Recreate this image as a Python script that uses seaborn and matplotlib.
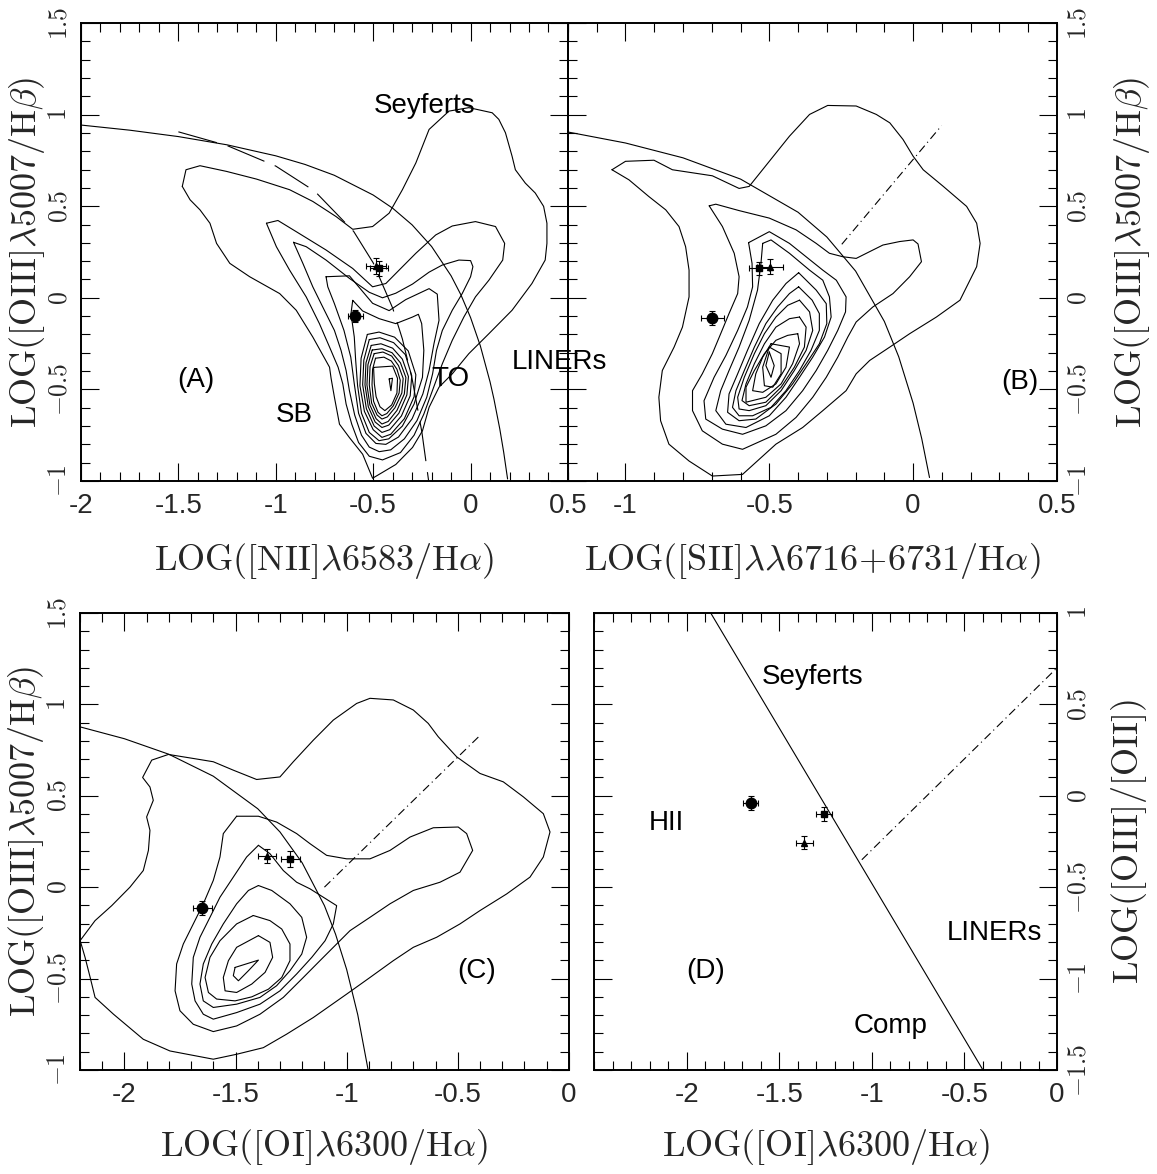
import matplotlib

matplotlib.use("Agg")
import matplotlib.pyplot as plt
import numpy as np
import seaborn as sns
from matplotlib.ticker import FixedLocator, MultipleLocator

sns.set_theme(style="ticks")
plt.rcParams["font.family"] = ["Liberation Sans", "DejaVu Sans"]
plt.rcParams["mathtext.fontset"] = "cm"

# ---------------------------------------------------------------- panel A
a_contours = [
    [(-1.480, 0.608), (-1.461, 0.699), (-1.389, 0.721), (-1.253, 0.690), (-1.099, 0.648),
     (-0.929, 0.590), (-0.810, 0.526), (-0.690, 0.443), (-0.605, 0.374), (-0.503, 0.389),
     (-0.418, 0.462), (-0.350, 0.590), (-0.281, 0.736), (-0.213, 0.919), (-0.111, 1.019),
     (-0.009, 1.038), (0.111, 1.010), (0.145, 0.974), (0.179, 0.901), (0.213, 0.773),
     (0.230, 0.699), (0.281, 0.626), (0.332, 0.572), (0.375, 0.499), (0.392, 0.407),
     (0.392, 0.297), (0.383, 0.206), (0.315, 0.078), (0.213, -0.068), (0.094, -0.196),
     (-0.009, -0.305), (-0.094, -0.415), (-0.162, -0.488), (-0.213, -0.598), (-0.247, -0.726),
     (-0.298, -0.817), (-0.384, -0.910), (-0.503, -0.985), (-0.554, -0.854), (-0.622, -0.763),
     (-0.673, -0.690), (-0.699, -0.543), (-0.716, -0.440), (-0.724, -0.379), (-0.810, -0.214),
     (-0.895, -0.068), (-0.980, 0.023), (-1.134, 0.115), (-1.236, 0.188), (-1.304, 0.297),
     (-1.338, 0.407), (-1.389, 0.480), (-1.440, 0.535)],
    [(-1.048, 0.407), (-0.989, 0.422), (-0.895, 0.361), (-0.742, 0.261), (-0.605, 0.160),
     (-0.503, 0.060), (-0.435, 0.078), (-0.367, 0.151), (-0.281, 0.243), (-0.179, 0.343),
     (-0.094, 0.392), (0.025, 0.416), (0.128, 0.389), (0.175, 0.297), (0.165, 0.206),
     (0.094, 0.096), (0.025, 0.005), (-0.034, -0.104), (-0.094, -0.232), (-0.145, -0.360),
     (-0.196, -0.507), (-0.240, -0.635), (-0.290, -0.750), (-0.360, -0.845), (-0.452, -0.885),
     (-0.520, -0.865), (-0.575, -0.790), (-0.610, -0.690), (-0.639, -0.580), (-0.656, -0.470),
     (-0.680, -0.379), (-0.724, -0.269), (-0.776, -0.141), (-0.844, 0.005), (-0.929, 0.151),
     (-0.997, 0.279)],
    [(-0.909, 0.303), (-0.844, 0.279), (-0.742, 0.206), (-0.622, 0.106), (-0.520, 0.030),
     (-0.452, 0.000), (-0.384, 0.025), (-0.298, 0.075), (-0.213, 0.140), (-0.145, 0.179),
     (-0.060, 0.206), (0.000, 0.203), (0.012, 0.170), (0.000, 0.115), (-0.043, 0.023),
     (-0.094, -0.068), (-0.145, -0.178), (-0.175, -0.287), (-0.195, -0.415), (-0.225, -0.543),
     (-0.275, -0.670), (-0.340, -0.770), (-0.410, -0.830), (-0.469, -0.840), (-0.520, -0.815),
     (-0.560, -0.750), (-0.595, -0.640), (-0.622, -0.507), (-0.639, -0.397), (-0.665, -0.287),
     (-0.699, -0.178), (-0.759, -0.050), (-0.810, 0.060), (-0.861, 0.188)],
    [(-0.742, 0.115), (-0.622, 0.120), (-0.503, -0.030), (-0.418, -0.070), (-0.333, -0.010),
     (-0.213, 0.050), (-0.171, 0.020), (-0.162, -0.123), (-0.188, -0.251), (-0.213, -0.397),
     (-0.245, -0.525), (-0.300, -0.660), (-0.370, -0.760), (-0.435, -0.800), (-0.486, -0.795),
     (-0.537, -0.740), (-0.575, -0.630), (-0.597, -0.470), (-0.615, -0.324), (-0.650, -0.178),
     (-0.699, -0.032), (-0.733, 0.060)],
    [(-0.605, -0.014), (-0.554, -0.072), (-0.469, -0.114), (-0.384, -0.141), (-0.298, -0.105),
     (-0.268, -0.090), (-0.251, -0.141), (-0.240, -0.287), (-0.247, -0.434), (-0.290, -0.580),
     (-0.350, -0.700), (-0.420, -0.770), (-0.470, -0.780), (-0.520, -0.735), (-0.560, -0.630),
     (-0.580, -0.480), (-0.590, -0.340), (-0.597, -0.214), (-0.614, -0.086)],
    [(-0.530, -0.200), (-0.470, -0.187), (-0.390, -0.215), (-0.320, -0.290), (-0.281, -0.420),
     (-0.290, -0.540), (-0.340, -0.660), (-0.410, -0.745), (-0.455, -0.762), (-0.500, -0.720),
     (-0.545, -0.620), (-0.568, -0.480), (-0.562, -0.330)],
    [(-0.520, -0.228), (-0.465, -0.218), (-0.395, -0.245), (-0.335, -0.310), (-0.302, -0.425),
     (-0.310, -0.535), (-0.355, -0.645), (-0.415, -0.720), (-0.455, -0.735), (-0.495, -0.700),
     (-0.535, -0.605), (-0.554, -0.475), (-0.548, -0.340)],
    [(-0.510, -0.260), (-0.460, -0.251), (-0.400, -0.275), (-0.350, -0.335), (-0.319, -0.430),
     (-0.327, -0.530), (-0.368, -0.630), (-0.420, -0.695), (-0.455, -0.708), (-0.490, -0.678),
     (-0.525, -0.595), (-0.542, -0.475), (-0.537, -0.355)],
    [(-0.505, -0.285), (-0.455, -0.278), (-0.403, -0.300), (-0.360, -0.355), (-0.332, -0.435),
     (-0.340, -0.525), (-0.378, -0.615), (-0.423, -0.675), (-0.455, -0.689), (-0.485, -0.660),
     (-0.517, -0.585), (-0.532, -0.475), (-0.527, -0.365)],
    [(-0.495, -0.305), (-0.450, -0.296), (-0.405, -0.318), (-0.370, -0.370), (-0.346, -0.440),
     (-0.353, -0.520), (-0.388, -0.600), (-0.427, -0.650), (-0.455, -0.662), (-0.480, -0.640),
     (-0.508, -0.575), (-0.520, -0.475), (-0.516, -0.375)],
    [(-0.488, -0.330), (-0.445, -0.324), (-0.407, -0.345), (-0.378, -0.390), (-0.361, -0.450),
     (-0.367, -0.520), (-0.397, -0.590), (-0.430, -0.632), (-0.455, -0.644), (-0.475, -0.625),
     (-0.498, -0.565), (-0.506, -0.475), (-0.503, -0.390)],
    [(-0.498, -0.380), (-0.400, -0.373), (-0.375, -0.440), (-0.378, -0.520), (-0.405, -0.585),
     (-0.440, -0.616), (-0.465, -0.595), (-0.485, -0.540), (-0.494, -0.470)],
    [(-0.418, -0.443), (-0.401, -0.439), (-0.409, -0.507)],
]
a_kewley_x = [-2.0, -1.75, -1.5, -1.25, -1.0, -0.85, -0.7, -0.5, -0.4, -0.3, -0.2, -0.1,
              -0.05, 0.0, 0.05, 0.1, 0.12, 0.15, 0.17, 0.19]
a_kewley_y = [0.943, 0.915, 0.880, 0.835, 0.775, 0.728, 0.669, 0.561, 0.489, 0.398, 0.280,
              0.120, 0.017, -0.108, -0.262, -0.459, -0.553, -0.716, -0.843, -0.989]
a_kauff_x = [-1.5, -1.25, -1.0, -0.8, -0.6, -0.5, -0.4, -0.35, -0.3, -0.25, -0.215]
a_kauff_y = [0.906, 0.831, 0.719, 0.582, 0.362, 0.191, -0.056, -0.225, -0.443, -0.733, -1.002]
a_obj_x = [-0.592, -0.486, -0.469]
a_obj_y = [-0.101, 0.175, 0.160]
a_obj_xerr = [0.038, 0.05, 0.045]
a_obj_yerr = [0.032, 0.043, 0.04]
a_text = [("Seyferts", -0.236, 1.049), ("(A)", -1.409, -0.451), ("SB", -0.906, -0.642),
          ("TO", -0.105, -0.442), ("LINERs", 0.454, -0.353)]

# ---------------------------------------------------------------- panel B
b_contours = [
    [(-1.047, 0.699), (-1.000, 0.745), (-0.901, 0.751), (-0.837, 0.699), (-0.698, 0.666),
     (-0.605, 0.597), (-0.570, 0.608), (-0.500, 0.745), (-0.430, 0.882), (-0.360, 1.001),
     (-0.297, 1.050), (-0.198, 1.047), (-0.128, 1.001), (-0.081, 0.955), (-0.035, 0.864),
     (0.000, 0.773), (0.035, 0.699), (0.105, 0.608), (0.186, 0.499), (0.221, 0.407),
     (0.233, 0.297), (0.221, 0.170), (0.163, -0.013), (0.081, -0.105), (-0.012, -0.196),
     (-0.081, -0.269), (-0.151, -0.342), (-0.198, -0.415), (-0.233, -0.507), (-0.314, -0.616),
     (-0.384, -0.708), (-0.477, -0.799), (-0.593, -0.964), (-0.698, -0.973), (-0.779, -0.891),
     (-0.849, -0.799), (-0.878, -0.671), (-0.884, -0.543), (-0.872, -0.397), (-0.831, -0.269),
     (-0.802, -0.160), (-0.779, 0.005), (-0.779, 0.151), (-0.791, 0.279), (-0.814, 0.389),
     (-0.860, 0.480), (-0.919, 0.553), (-0.988, 0.644)],
    [(-0.709, 0.502), (-0.686, 0.511), (-0.605, 0.476), (-0.500, 0.435), (-0.407, 0.371),
     (-0.337, 0.297), (-0.291, 0.243), (-0.244, 0.224), (-0.198, 0.215), (-0.151, 0.252),
     (-0.105, 0.288), (-0.047, 0.307), (0.000, 0.316), (0.017, 0.294), (0.029, 0.197),
     (-0.012, 0.115), (-0.070, 0.023), (-0.140, -0.050), (-0.198, -0.132), (-0.227, -0.214),
     (-0.262, -0.324), (-0.302, -0.434), (-0.349, -0.543), (-0.407, -0.653), (-0.477, -0.745),
     (-0.593, -0.827), (-0.663, -0.799), (-0.733, -0.726), (-0.767, -0.616), (-0.767, -0.507),
     (-0.733, -0.415), (-0.698, -0.305), (-0.669, -0.196), (-0.640, -0.086), (-0.610, 0.023),
     (-0.605, 0.115), (-0.622, 0.243), (-0.663, 0.389)],
    [(-0.572, 0.301), (-0.500, 0.361), (-0.430, 0.297), (-0.372, 0.224), (-0.314, 0.151),
     (-0.267, 0.096), (-0.233, 0.005), (-0.235, -0.077), (-0.262, -0.178), (-0.297, -0.287),
     (-0.337, -0.397), (-0.384, -0.507), (-0.442, -0.616), (-0.512, -0.699), (-0.593, -0.745),
     (-0.663, -0.717), (-0.721, -0.662), (-0.727, -0.562), (-0.692, -0.434), (-0.651, -0.315),
     (-0.610, -0.178), (-0.576, -0.050), (-0.558, 0.060), (-0.560, 0.188)],
    [(-0.523, 0.297), (-0.494, 0.316), (-0.430, 0.243), (-0.360, 0.151), (-0.314, 0.096),
     (-0.291, 0.005), (-0.285, -0.105), (-0.308, -0.214), (-0.349, -0.324), (-0.395, -0.434),
     (-0.442, -0.543), (-0.500, -0.644), (-0.581, -0.708), (-0.651, -0.690), (-0.686, -0.616),
     (-0.669, -0.507), (-0.640, -0.397), (-0.605, -0.269), (-0.570, -0.123), (-0.541, 0.042),
     (-0.529, 0.188)],
    [(-0.398, 0.137), (-0.337, 0.042), (-0.302, -0.032), (-0.300, -0.141), (-0.326, -0.251),
     (-0.372, -0.360), (-0.419, -0.470), (-0.477, -0.580), (-0.547, -0.662), (-0.605, -0.671),
     (-0.645, -0.625), (-0.640, -0.525), (-0.610, -0.415), (-0.576, -0.287), (-0.535, -0.141),
     (-0.488, -0.013), (-0.442, 0.078)],
    [(-0.398, 0.060), (-0.351, -0.013), (-0.326, -0.086), (-0.326, -0.178), (-0.355, -0.287),
     (-0.395, -0.397), (-0.442, -0.507), (-0.494, -0.598), (-0.558, -0.644), (-0.605, -0.644),
     (-0.628, -0.598), (-0.616, -0.507), (-0.587, -0.397), (-0.552, -0.269), (-0.512, -0.141),
     (-0.471, -0.050), (-0.430, 0.023)],
    [(-0.395, -0.013), (-0.360, -0.077), (-0.349, -0.178), (-0.372, -0.287), (-0.413, -0.397),
     (-0.459, -0.507), (-0.512, -0.589), (-0.570, -0.616), (-0.605, -0.607), (-0.610, -0.543),
     (-0.587, -0.434), (-0.552, -0.305), (-0.517, -0.196), (-0.477, -0.105), (-0.436, -0.041)],
    [(-0.395, -0.105), (-0.372, -0.160), (-0.378, -0.269), (-0.413, -0.379), (-0.459, -0.488),
     (-0.512, -0.570), (-0.570, -0.589), (-0.595, -0.561), (-0.581, -0.470), (-0.552, -0.360),
     (-0.517, -0.251), (-0.477, -0.160), (-0.430, -0.114)],
    [(-0.401, -0.196), (-0.395, -0.251), (-0.419, -0.360), (-0.459, -0.470), (-0.512, -0.543),
     (-0.581, -0.570), (-0.581, -0.488), (-0.552, -0.397), (-0.517, -0.305), (-0.477, -0.232),
     (-0.436, -0.205)],
    [(-0.494, -0.251), (-0.430, -0.269), (-0.442, -0.379), (-0.477, -0.470), (-0.523, -0.516),
     (-0.558, -0.507), (-0.547, -0.415), (-0.523, -0.324)],
    [(-0.500, -0.269), (-0.459, -0.305), (-0.459, -0.415), (-0.488, -0.488), (-0.517, -0.480),
     (-0.523, -0.379)],
    [(-0.500, -0.296), (-0.483, -0.370), (-0.494, -0.434), (-0.512, -0.370)],
]
b_kewley_x = [-1.2, -1.0, -0.8, -0.6, -0.4, -0.3, -0.2, -0.1, -0.05, 0.0, 0.03, 0.057]
b_kewley_y = [0.905, 0.845, 0.764, 0.648, 0.467, 0.332, 0.146, -0.129, -0.322, -0.575, -0.769, -0.981]
b_split_x = [-0.248, 0.099]
b_split_y = [0.292, 0.940]
b_obj_x = [-0.698, -0.498, -0.537]
b_obj_y = [-0.110, 0.170, 0.160]
b_obj_xerr = [0.041, 0.044, 0.035]
b_obj_yerr = [0.040, 0.040, 0.038]
b_text = [("(B)", 0.372, -0.46)]

# ---------------------------------------------------------------- panel C
c_contours = [
    [(-2.199, -0.292), (-2.132, -0.183), (-2.057, -0.101), (-1.975, 0.000), (-1.915, 0.091),
     (-1.892, 0.201), (-1.885, 0.311), (-1.900, 0.384), (-1.870, 0.475), (-1.885, 0.548),
     (-1.918, 0.600), (-1.877, 0.695), (-1.802, 0.726), (-1.690, 0.704), (-1.600, 0.686),
     (-1.510, 0.640), (-1.405, 0.589), (-1.300, 0.603), (-1.240, 0.686), (-1.150, 0.804),
     (-1.060, 0.914), (-0.955, 1.005), (-0.895, 1.033), (-0.790, 1.024), (-0.700, 0.969),
     (-0.633, 0.896), (-0.588, 0.823), (-0.505, 0.713), (-0.400, 0.622), (-0.295, 0.576),
     (-0.205, 0.494), (-0.115, 0.402), (-0.085, 0.302), (-0.115, 0.165), (-0.175, 0.055),
     (-0.280, -0.037), (-0.400, -0.128), (-0.490, -0.201), (-0.595, -0.274), (-0.700, -0.329),
     (-0.790, -0.402), (-0.895, -0.494), (-1.000, -0.585), (-1.150, -0.713), (-1.270, -0.804),
     (-1.375, -0.878), (-1.495, -0.914), (-1.600, -0.941), (-1.795, -0.896), (-1.915, -0.832),
     (-2.049, -0.695), (-2.132, -0.603), (-2.154, -0.494), (-2.177, -0.384)],
    [(-1.495, 0.388), (-1.397, 0.388), (-1.315, 0.356), (-1.225, 0.293), (-1.165, 0.238),
     (-1.090, 0.174), (-1.000, 0.155), (-0.895, 0.155), (-0.805, 0.201), (-0.715, 0.274),
     (-0.610, 0.325), (-0.498, 0.329), (-0.460, 0.293), (-0.433, 0.201), (-0.490, 0.082),
     (-0.580, 0.027), (-0.700, -0.018), (-0.805, -0.091), (-0.895, -0.165), (-0.985, -0.238),
     (-1.060, -0.329), (-1.120, -0.402), (-1.195, -0.494), (-1.285, -0.603), (-1.390, -0.695),
     (-1.495, -0.759), (-1.600, -0.790), (-1.690, -0.750), (-1.750, -0.676), (-1.772, -0.567),
     (-1.765, -0.420), (-1.735, -0.311), (-1.690, -0.201), (-1.645, -0.091), (-1.600, 0.037),
     (-1.570, 0.165), (-1.555, 0.293)],
    [(-1.397, 0.229), (-1.345, 0.183), (-1.285, 0.091), (-1.225, 0.027), (-1.165, -0.009),
     (-1.045, -0.101), (-1.060, -0.201), (-1.097, -0.293), (-1.157, -0.384), (-1.225, -0.475),
     (-1.300, -0.567), (-1.390, -0.640), (-1.495, -0.686), (-1.600, -0.722), (-1.645, -0.695),
     (-1.682, -0.622), (-1.697, -0.530), (-1.690, -0.384), (-1.660, -0.274), (-1.615, -0.165),
     (-1.570, -0.055), (-1.510, 0.055), (-1.450, 0.165)],
    [(-1.397, 0.009), (-1.337, -0.018), (-1.255, -0.091), (-1.202, -0.165), (-1.180, -0.274),
     (-1.202, -0.366), (-1.255, -0.457), (-1.315, -0.539), (-1.390, -0.603), (-1.495, -0.640),
     (-1.600, -0.658), (-1.645, -0.622), (-1.660, -0.530), (-1.645, -0.420), (-1.607, -0.311),
     (-1.555, -0.201), (-1.495, -0.091), (-1.442, -0.018)],
    [(-1.420, -0.155), (-1.345, -0.183), (-1.292, -0.229), (-1.255, -0.311), (-1.255, -0.402),
     (-1.292, -0.494), (-1.352, -0.558), (-1.427, -0.600), (-1.502, -0.622), (-1.585, -0.612),
     (-1.622, -0.576), (-1.637, -0.494), (-1.615, -0.384), (-1.570, -0.293), (-1.495, -0.201)],
    [(-1.397, -0.265), (-1.345, -0.302), (-1.333, -0.384), (-1.367, -0.466), (-1.427, -0.530),
     (-1.495, -0.576), (-1.547, -0.567), (-1.555, -0.494), (-1.532, -0.402), (-1.495, -0.329)],
    [(-1.502, -0.439), (-1.397, -0.399), (-1.442, -0.457), (-1.487, -0.512), (-1.510, -0.484)],
]
c_kewley_x = [-2.2, -2.0, -1.8, -1.6, -1.4, -1.3, -1.2, -1.1, -1.05, -1.0, -0.95, -0.903]
c_kewley_y = [0.877, 0.812, 0.727, 0.607, 0.429, 0.302, 0.133, -0.101, -0.257, -0.450, -0.698, -1.002]
c_split_x = [-1.10, -0.40]
c_split_y = [0.00, 0.83]
c_obj_x = [-1.649, -1.357, -1.253]
c_obj_y = [-0.113, 0.170, 0.155]
c_obj_xerr = [0.041, 0.041, 0.043]
c_obj_yerr = [0.040, 0.040, 0.042]
c_text = [("(C)", -0.415, -0.457)]

# ---------------------------------------------------------------- panel D
d_line_x = [-1.87, -0.40]
d_line_y = [1.00, -1.50]
d_split_x = [-1.054, 0.0]
d_split_y = [-0.35, 0.70]
d_obj_x = [-1.655, -1.365, -1.258]
d_obj_y = [-0.040, -0.257, -0.100]
d_obj_xerr = [0.040, 0.045, 0.045]
d_obj_yerr = [0.040, 0.035, 0.040]
d_text = [("Seyferts", -1.32, 0.65), ("HII", -2.11, -0.15), ("LINERs", -0.34, -0.75),
          ("(D)", -1.90, -0.96), ("Comp", -0.90, -1.26)]

OBJ_MARKERS = ["o", "^", "s"]
OBJ_SIZES = [7.5, 5.0, 5.0]

LBL_OIII = r"$\mathrm{LOG([OIII]}\lambda\mathrm{5007/H}\beta\mathrm{)}$"
LBL_SIZE = 26


def draw_line(ax, xs, ys, closed=False, ls="-"):
    xs = np.asarray(xs, dtype=float)
    ys = np.asarray(ys, dtype=float)
    if closed:
        xs = np.append(xs, xs[0])
        ys = np.append(ys, ys[0])
    sns.lineplot(x=xs, y=ys, sort=False, estimator=None, ax=ax,
                 color="black", lw=0.8, linestyle=ls)


def draw_objects(ax, xs, ys, xerr, yerr):
    for x, y, ex, ey, m, s in zip(xs, ys, xerr, yerr, OBJ_MARKERS, OBJ_SIZES):
        ax.errorbar(x, y, xerr=ex, yerr=ey, fmt=m, ms=s, color="black",
                    elinewidth=0.8, capsize=2, capthick=0.8, zorder=5)


def style_axes(ax, xlim, ylim, xticks, yticks, side):
    ax.set_xlim(xlim)
    ax.set_ylim(ylim)
    ax.set_facecolor("none")
    ax.xaxis.set_major_locator(FixedLocator(xticks))
    ax.yaxis.set_major_locator(FixedLocator(yticks))
    ax.xaxis.set_minor_locator(MultipleLocator(0.1))
    ax.yaxis.set_minor_locator(MultipleLocator(0.1))
    ax.set_xticklabels([f"{t:g}" for t in xticks], fontsize=20)
    ax.set_yticklabels([f"${t:g}$" for t in yticks], fontsize=18.5, rotation=90, va="center")
    ax.tick_params(which="both", direction="in", top=True, bottom=True, left=True,
                   right=True, width=0.8, color="black")
    ax.tick_params(axis="x", pad=9)
    ax.tick_params(axis="y", pad=7)
    ax.tick_params(which="major", length=13)
    ax.tick_params(which="minor", length=6.5)
    if side == "left":
        ax.tick_params(labelleft=True, labelright=False)
    else:
        ax.tick_params(labelleft=False, labelright=True)
        ax.yaxis.set_label_position("right")
    for sp in ax.spines.values():
        sp.set_linewidth(1.4)
        sp.set_color("black")


def put_text(ax, items):
    for s, x, y in items:
        ax.text(x, y, s, fontsize=20, ha="center", va="center", color="black")


fig = plt.figure(figsize=(11.57, 11.74), dpi=100)
ax_a = fig.add_axes([0.0700, 0.5903, 0.4209, 0.3901])
ax_b = fig.add_axes([0.4909, 0.5903, 0.4226, 0.3901])
ax_c = fig.add_axes([0.0691, 0.0886, 0.4226, 0.3893])
ax_d = fig.add_axes([0.5134, 0.0886, 0.4002, 0.3893])

# (A) [NII]
for pts in a_contours:
    p = np.array(pts)
    draw_line(ax_a, p[:, 0], p[:, 1], closed=True)
draw_line(ax_a, a_kewley_x, a_kewley_y)
draw_line(ax_a, a_kauff_x, a_kauff_y, ls=(0, (36, 10)))
draw_objects(ax_a, a_obj_x, a_obj_y, a_obj_xerr, a_obj_yerr)
style_axes(ax_a, (-2, 0.5), (-1, 1.5), [-2, -1.5, -1, -0.5, 0, 0.5],
           [-1, -0.5, 0, 0.5, 1, 1.5], "left")
put_text(ax_a, a_text)
ax_a.set_xlabel(r"$\mathrm{LOG([NII]}\lambda\mathrm{6583/H}\alpha\mathrm{)}$", fontsize=LBL_SIZE)
ax_a.set_ylabel(LBL_OIII, fontsize=LBL_SIZE)
ax_a.xaxis.set_label_coords(0.5, -0.13)
ax_a.yaxis.set_label_coords(-0.07, 0.5)

# (B) [SII]
for pts in b_contours:
    p = np.array(pts)
    draw_line(ax_b, p[:, 0], p[:, 1], closed=True)
draw_line(ax_b, b_kewley_x, b_kewley_y)
draw_line(ax_b, b_split_x, b_split_y, ls=(0, (7.5, 3.5, 1, 3.5)))
draw_objects(ax_b, b_obj_x, b_obj_y, b_obj_xerr, b_obj_yerr)
style_axes(ax_b, (-1.2, 0.5), (-1, 1.5), [-1, -0.5, 0, 0.5],
           [-1, -0.5, 0, 0.5, 1, 1.5], "right")
put_text(ax_b, b_text)
ax_b.set_xlabel(r"$\mathrm{LOG([SII]}\lambda\lambda\mathrm{6716\!+\!6731/H}\alpha\mathrm{)}$",
                fontsize=LBL_SIZE)
ax_b.set_ylabel(LBL_OIII, fontsize=LBL_SIZE)
ax_b.xaxis.set_label_coords(0.5, -0.13)
ax_b.yaxis.set_label_coords(1.112, 0.5)

# (C) [OI]
for pts in c_contours:
    p = np.array(pts)
    draw_line(ax_c, p[:, 0], p[:, 1], closed=True)
draw_line(ax_c, c_kewley_x, c_kewley_y)
draw_line(ax_c, c_split_x, c_split_y, ls=(0, (7.5, 3.5, 1, 3.5)))
draw_objects(ax_c, c_obj_x, c_obj_y, c_obj_xerr, c_obj_yerr)
style_axes(ax_c, (-2.2, 0), (-1, 1.5), [-2, -1.5, -1, -0.5, 0],
           [-1, -0.5, 0, 0.5, 1, 1.5], "left")
put_text(ax_c, c_text)
ax_c.set_xlabel(r"$\mathrm{LOG([OI]}\lambda\mathrm{6300/H}\alpha\mathrm{)}$", fontsize=LBL_SIZE)
ax_c.set_ylabel(LBL_OIII, fontsize=LBL_SIZE)
ax_c.xaxis.set_label_coords(0.5, -0.125)
ax_c.yaxis.set_label_coords(-0.07, 0.5)

# (D) [OIII]/[OII] vs [OI]
draw_line(ax_d, d_line_x, d_line_y)
draw_line(ax_d, d_split_x, d_split_y, ls=(0, (7.5, 3.5, 1, 3.5)))
draw_objects(ax_d, d_obj_x, d_obj_y, d_obj_xerr, d_obj_yerr)
style_axes(ax_d, (-2.5, 0), (-1.5, 1), [-2, -1.5, -1, -0.5, 0],
           [-1.5, -1, -0.5, 0, 0.5, 1], "right")
put_text(ax_d, d_text)
ax_d.set_xlabel(r"$\mathrm{LOG([OI]}\lambda\mathrm{6300/H}\alpha\mathrm{)}$", fontsize=LBL_SIZE)
ax_d.set_ylabel(r"$\mathrm{LOG([OIII]/[OII])}$", fontsize=LBL_SIZE)
ax_d.xaxis.set_label_coords(0.5, -0.125)
ax_d.yaxis.set_label_coords(1.112, 0.5)

fig.savefig("out.png", dpi=100, facecolor="white")
